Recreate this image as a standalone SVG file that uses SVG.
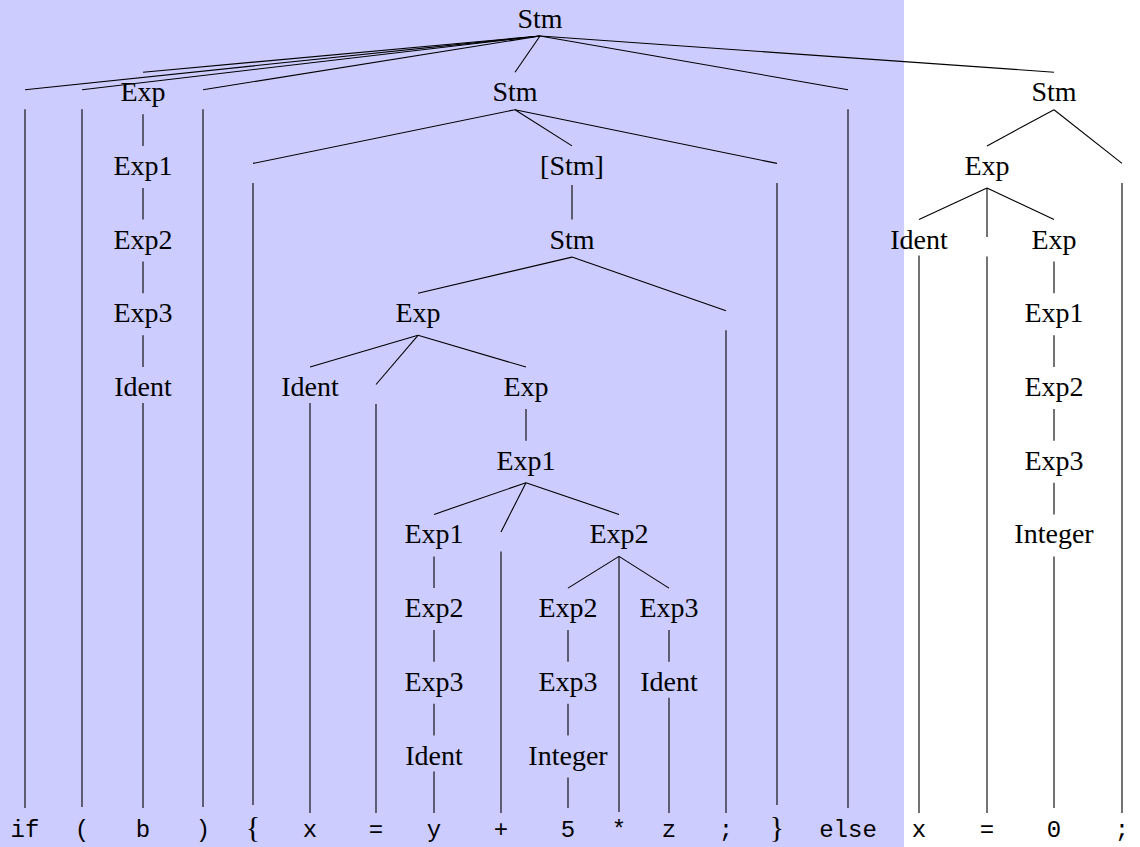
<svg xmlns="http://www.w3.org/2000/svg" width="1140" height="847" viewBox="0 0 1140 847">
<style>
.n{font-family:"Liberation Serif","DejaVu Serif",serif;font-size:28px;fill:#000;text-anchor:middle}
.t{font-family:"Liberation Mono","DejaVu Sans Mono",monospace;font-size:24px;fill:#000;text-anchor:middle}
.b{font-family:"Liberation Serif","DejaVu Serif",serif;font-size:30px;fill:#000;text-anchor:middle}
.e line{stroke:#000;stroke-width:1.1;fill:none}
</style>
<rect x="0" y="0" width="904" height="847" fill="#ccccff"/>
<g id="edges" class="e">
<line x1="540" y1="36" x2="25" y2="89.7"/>
<line x1="540" y1="36" x2="82" y2="89.7"/>
<line x1="540" y1="36" x2="143" y2="72.2"/>
<line x1="540" y1="36" x2="203" y2="89.7"/>
<line x1="540" y1="36" x2="515" y2="72.2"/>
<line x1="540" y1="36" x2="848" y2="89.7"/>
<line x1="540" y1="36" x2="1054" y2="72.2"/>
<line x1="25" y1="109.2" x2="25" y2="808"/>
<line x1="82" y1="109.2" x2="82" y2="807"/>
<line x1="203" y1="109.2" x2="203" y2="807"/>
<line x1="848" y1="109.2" x2="848" y2="808"/>
<line x1="143" y1="114.2" x2="143" y2="145.9"/>
<line x1="143" y1="187.9" x2="143" y2="219.6"/>
<line x1="143" y1="261.6" x2="143" y2="293.3"/>
<line x1="143" y1="335.3" x2="143" y2="367"/>
<line x1="143" y1="403" x2="143" y2="808"/>
<line x1="515" y1="109.7" x2="253" y2="163.4"/>
<line x1="515" y1="109.7" x2="572" y2="145.9"/>
<line x1="515" y1="109.7" x2="777" y2="163.4"/>
<line x1="253" y1="182.9" x2="253" y2="805"/>
<line x1="777" y1="182.9" x2="777" y2="805"/>
<line x1="572" y1="184.9" x2="572" y2="219.6"/>
<line x1="572" y1="257.1" x2="418" y2="293.3"/>
<line x1="572" y1="257.1" x2="726" y2="310.8"/>
<line x1="726" y1="330.3" x2="726" y2="813"/>
<line x1="418" y1="335.3" x2="310" y2="367"/>
<line x1="418" y1="335.3" x2="376" y2="384.5"/>
<line x1="418" y1="335.3" x2="526" y2="367"/>
<line x1="310" y1="403" x2="310" y2="813"/>
<line x1="376" y1="404" x2="376" y2="813"/>
<line x1="526" y1="409" x2="526" y2="440.7"/>
<line x1="526" y1="482.7" x2="434" y2="514.4"/>
<line x1="526" y1="482.7" x2="501" y2="531.9"/>
<line x1="526" y1="482.7" x2="619" y2="514.4"/>
<line x1="501" y1="551.4" x2="501" y2="813"/>
<line x1="434" y1="556.4" x2="434" y2="588.1"/>
<line x1="434" y1="630.1" x2="434" y2="661.8"/>
<line x1="434" y1="703.8" x2="434" y2="735.5"/>
<line x1="434" y1="771.5" x2="434" y2="813"/>
<line x1="619" y1="556.4" x2="568" y2="588.1"/>
<line x1="619" y1="556.4" x2="619" y2="812"/>
<line x1="619" y1="556.4" x2="669" y2="588.1"/>
<line x1="568" y1="630.1" x2="568" y2="661.8"/>
<line x1="568" y1="703.8" x2="568" y2="735.5"/>
<line x1="568" y1="777.5" x2="568" y2="808"/>
<line x1="669" y1="630.1" x2="669" y2="661.8"/>
<line x1="669" y1="697.8" x2="669" y2="813"/>
<line x1="1054" y1="109.7" x2="987" y2="145.9"/>
<line x1="1054" y1="109.7" x2="1122" y2="163.4"/>
<line x1="1122" y1="182.9" x2="1122" y2="813"/>
<line x1="987" y1="187.9" x2="919" y2="219.6"/>
<line x1="987" y1="187.9" x2="987" y2="237.1"/>
<line x1="987" y1="187.9" x2="1054" y2="219.6"/>
<line x1="919" y1="255.6" x2="919" y2="813"/>
<line x1="987" y1="256.6" x2="987" y2="813"/>
<line x1="1054" y1="261.6" x2="1054" y2="293.3"/>
<line x1="1054" y1="335.3" x2="1054" y2="367"/>
<line x1="1054" y1="409" x2="1054" y2="440.7"/>
<line x1="1054" y1="482.7" x2="1054" y2="514.4"/>
<line x1="1054" y1="556.4" x2="1054" y2="808"/>
</g>
<g id="n-root"><text class="n" x="540" y="27.5">Stm</text></g>
<g id="n-exp-a"><text class="n" x="143" y="101.2">Exp</text></g>
<g id="n-exp1-a"><text class="n" x="143" y="174.9">Exp1</text></g>
<g id="n-exp2-a"><text class="n" x="143" y="248.6">Exp2</text></g>
<g id="n-exp3-a"><text class="n" x="143" y="322.3">Exp3</text></g>
<g id="n-ident-a"><text class="n" x="143" y="396">Ident</text></g>
<g id="n-stm-b"><text class="n" x="515" y="101.2">Stm</text></g>
<g id="n-liststm"><text class="n" x="572" y="174.9">[Stm]</text></g>
<g id="n-stm-c"><text class="n" x="572" y="248.6">Stm</text></g>
<g id="n-exp-c"><text class="n" x="418" y="322.3">Exp</text></g>
<g id="n-ident-c"><text class="n" x="310" y="396">Ident</text></g>
<g id="n-exp-d"><text class="n" x="526" y="396">Exp</text></g>
<g id="n-exp1-d"><text class="n" x="526" y="469.7">Exp1</text></g>
<g id="n-exp1-e"><text class="n" x="434" y="543.4">Exp1</text></g>
<g id="n-exp2-f"><text class="n" x="619" y="543.4">Exp2</text></g>
<g id="n-exp2-e"><text class="n" x="434" y="617.1">Exp2</text></g>
<g id="n-exp3-e"><text class="n" x="434" y="690.8">Exp3</text></g>
<g id="n-ident-e"><text class="n" x="434" y="764.5">Ident</text></g>
<g id="n-exp2-g"><text class="n" x="568" y="617.1">Exp2</text></g>
<g id="n-exp3-g"><text class="n" x="568" y="690.8">Exp3</text></g>
<g id="n-integer-g"><text class="n" x="568" y="764.5">Integer</text></g>
<g id="n-exp3-h"><text class="n" x="669" y="617.1">Exp3</text></g>
<g id="n-ident-h"><text class="n" x="669" y="690.8">Ident</text></g>
<g id="n-stm-r"><text class="n" x="1054" y="101.2">Stm</text></g>
<g id="n-exp-r"><text class="n" x="987" y="174.9">Exp</text></g>
<g id="n-ident-r"><text class="n" x="919" y="248.6">Ident</text></g>
<g id="n-exp-r2"><text class="n" x="1054" y="248.6">Exp</text></g>
<g id="n-exp1-r"><text class="n" x="1054" y="322.3">Exp1</text></g>
<g id="n-exp2-r"><text class="n" x="1054" y="396">Exp2</text></g>
<g id="n-exp3-r"><text class="n" x="1054" y="469.7">Exp3</text></g>
<g id="n-integer-r"><text class="n" x="1054" y="543.4">Integer</text></g>
<g id="leaves">
<text class="t" x="25" y="837">if</text>
<text class="t" x="82" y="837">(</text>
<text class="t" x="143" y="837">b</text>
<text class="t" x="203" y="837">)</text>
<text class="b" x="253" y="837">{</text>
<text class="t" x="310" y="837">x</text>
<text class="t" x="376" y="837">=</text>
<text class="t" x="434" y="837">y</text>
<text class="t" x="501" y="837">+</text>
<text class="t" x="568" y="837">5</text>
<text class="t" x="619" y="837">*</text>
<text class="t" x="669" y="837">z</text>
<text class="t" x="726" y="837">;</text>
<text class="b" x="777" y="837">}</text>
<text class="t" x="848" y="837">else</text>
<text class="t" x="919" y="837">x</text>
<text class="t" x="987" y="837">=</text>
<text class="t" x="1054" y="837">0</text>
<text class="t" x="1122" y="837">;</text>
</g>
</svg>
